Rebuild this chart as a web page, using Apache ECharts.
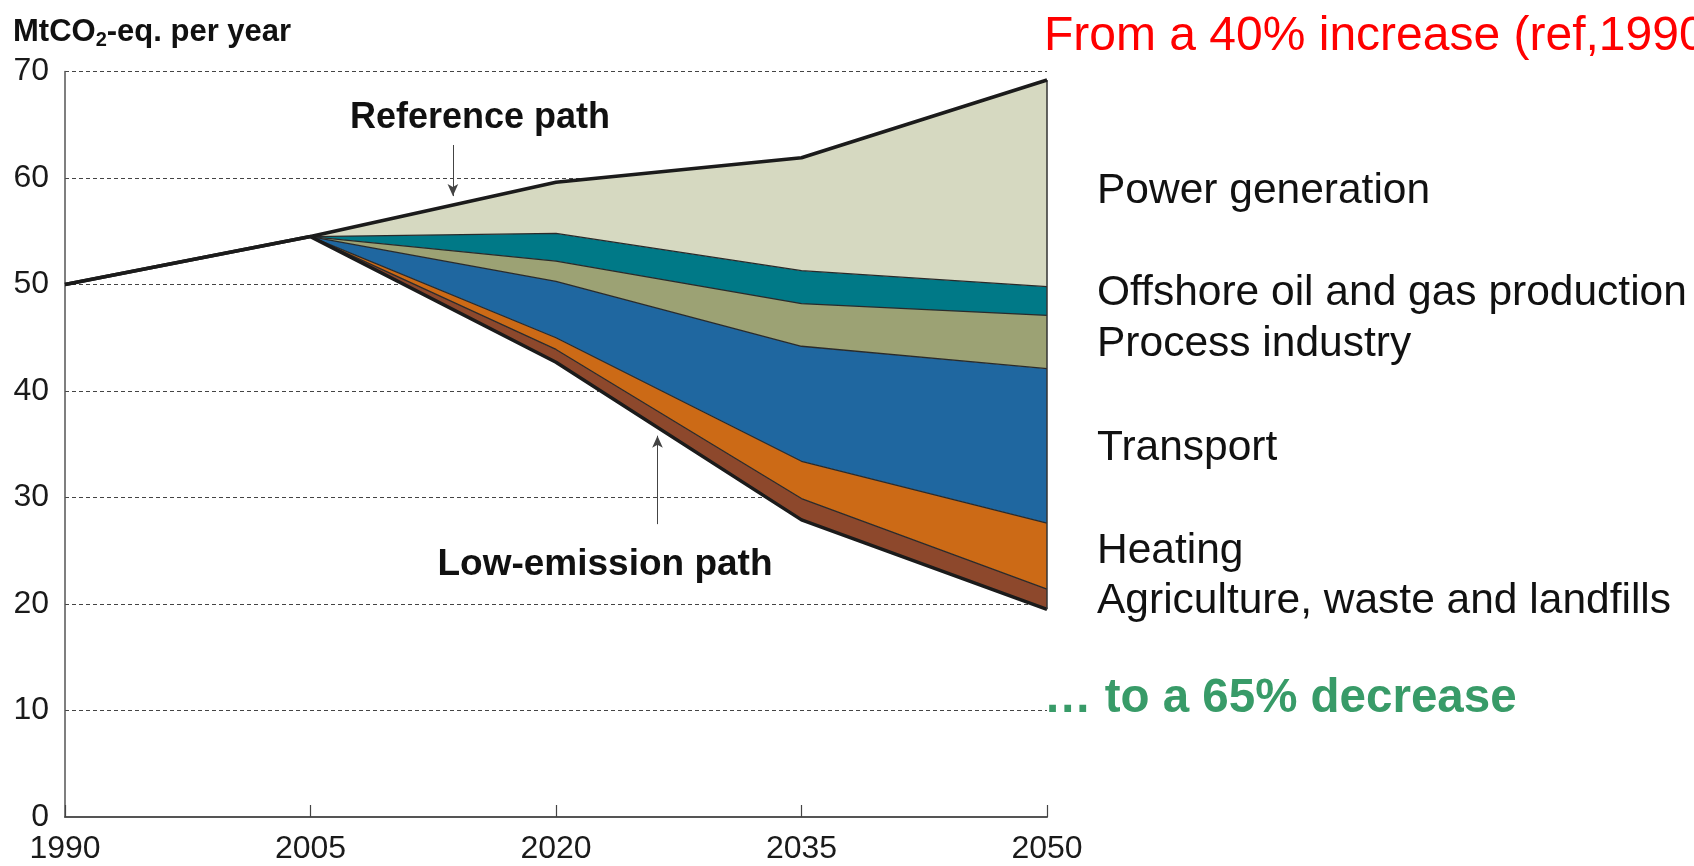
<!DOCTYPE html>
<html>
<head>
<meta charset="utf-8">
<title>Emission paths</title>
<script src="https://cdn.jsdelivr.net/npm/echarts@6/dist/echarts.min.js"></script>
<style>
  html, body { margin: 0; padding: 0; background: #fff; }
  #chart { width: 1694px; height: 866px; }
</style>
</head>
<body>
<div id="chart"></div>
<script>
// years on the x axis
const years = [1990, 2005, 2020, 2035, 2050];
// reference path (top line), MtCO2-eq per year
const referencePath = [50, 54.5, 59.6, 61.9, 69.2];
// low-emission path = bottom of the stack (shares the 1990-2005 history)
const lowEmissionPath = [50, 54.5, 42.7, 27.9, 19.5];
// cuts per sector, bottom to top
const agriculture = [0, 0, 1.2, 2.0, 1.9];
const heating = [0, 0, 1.1, 3.5, 6.2];
const transport = [0, 0, 5.3, 10.8, 14.5];
const processIndustry = [0, 0, 1.9, 4.0, 5.0];
const offshore = [0, 0, 2.6, 3.1, 2.7];
const powerGeneration = [0, 0, 4.8, 10.6, 19.4];

const sectorNames = ['Agriculture, waste and landfills', 'Heating', 'Transport',
  'Process industry', 'Offshore oil and gas production', 'Power generation'];
const sectorValues = [agriculture, heating, transport, processIndustry, offshore, powerGeneration];
const sectorColors = ['#8D482C', '#CC6A16', '#1F67A0', '#9CA274', '#007987', '#D6D9C1'];

// arrows of the two path labels: [year, from, to]
const refArrow = [2013.7, 63.1, 58.3];
const lowArrow = [2026.2, 27.5, 35.8];

const FONT = "'Liberation Sans', Arial, Helvetica, sans-serif";

const chart = echarts.init(document.getElementById('chart'), null, { renderer: 'canvas' });

const series = [];
// invisible base so that the fan starts at the low-emission path
series.push({
  name: 'Low-emission path',
  type: 'line',
  stack: 'total',
  data: lowEmissionPath,
  symbol: 'none',
  z: 4,
  lineStyle: { color: '#1b1b1b', width: 3.5 },
  silent: true
});
sectorValues.forEach((vals, i) => {
  series.push({
    name: sectorNames[i],
    type: 'line',
    stack: 'total',
    data: vals,
    symbol: 'none',
    z: 2,
    lineStyle: { color: '#2a2a2a', width: 1.3 },
    areaStyle: { color: sectorColors[i], opacity: 1 },
    silent: true
  });
});
// reference path on top (value x axis), with the arrows and the 2050 edge
series.push({
  name: 'Reference path',
  type: 'line',
  xAxisIndex: 1,
  data: years.map((y, i) => [y, referencePath[i]]),
  symbol: 'none',
  z: 5,
  lineStyle: { color: '#1b1b1b', width: 3.5 },
  silent: true,
  markLine: {
    silent: true,
    animation: false,
    symbol: ['none', 'arrow'],
    symbolSize: [8, 12],
    label: { show: false },
    lineStyle: { color: '#444', width: 1, type: 'solid' },
    data: [
      [{ coord: [refArrow[0], refArrow[1]] }, { coord: [refArrow[0], refArrow[2]] }],
      [{ coord: [lowArrow[0], lowArrow[1]] }, { coord: [lowArrow[0], lowArrow[2]] }],
      [
        { coord: [2050, lowEmissionPath[4]], symbol: 'none', lineStyle: { color: '#333', width: 1.5 } },
        { coord: [2050, referencePath[4]], symbol: 'none' }
      ]
    ]
  }
});

const option = {
  backgroundColor: '#fff',
  animation: false,
  grid: { left: 65, right: 647, top: 71.5, bottom: 49 },
  xAxis: [
    {
      type: 'category',
      data: years,
      boundaryGap: false,
      axisLine: { show: true, lineStyle: { color: '#555', width: 2 } },
      axisTick: { show: true, inside: true, length: 12, lineStyle: { color: '#444', width: 1.2 } },
      axisLabel: { color: '#1a1a1a', fontFamily: FONT, fontSize: 32, margin: 16 },
      splitLine: { show: false }
    },
    { type: 'value', min: 1990, max: 2050, show: false }
  ],
  yAxis: {
    type: 'value',
    min: 0,
    max: 70,
    interval: 10,
    axisLine: { show: true, lineStyle: { color: '#555', width: 1.5 } },
    axisTick: { show: false },
    axisLabel: { color: '#1a1a1a', fontFamily: FONT, fontSize: 32, margin: 16 },
    splitLine: { show: true, lineStyle: { color: '#444', width: 1.2, type: [4, 3] } }
  },
  series: series,
  graphic: [
    {
      type: 'text', left: 13, top: 15,
      style: {
        text: '{a|MtCO}{b|2}{a|-eq. per year}',
        rich: {
          a: { fontFamily: FONT, fontWeight: 'bold', fontSize: 31, fill: '#111', lineHeight: 34 },
          b: { fontFamily: FONT, fontWeight: 'bold', fontSize: 20, fill: '#111', lineHeight: 34, padding: [15, 0, 0, 0] }
        }
      }
    },
    {
      type: 'text', left: 1044, top: 13,
      style: {
        text: 'From a 40% increase (ref,1990)', fill: '#FF0000',
        font: '48px ' + FONT,
        shadowColor: 'rgba(0,0,0,0.3)', shadowBlur: 1, shadowOffsetX: 2, shadowOffsetY: 2
      }
    },
    {
      type: 'text', x: 480, y: 118,
      style: { text: 'Reference path', fill: '#111', font: 'bold 36px ' + FONT, align: 'center', verticalAlign: 'middle' }
    },
    {
      type: 'text', x: 605, y: 565,
      style: { text: 'Low-emission path', fill: '#111', font: 'bold 37px ' + FONT, align: 'center', verticalAlign: 'middle' }
    },
    { type: 'text', x: 1097, y: 191, style: { text: 'Power generation', fill: '#111', font: '42.5px ' + FONT, verticalAlign: 'middle' } },
    { type: 'text', x: 1097, y: 293, style: { text: 'Offshore oil and gas production', fill: '#111', font: '42.5px ' + FONT, verticalAlign: 'middle' } },
    { type: 'text', x: 1097, y: 344, style: { text: 'Process industry', fill: '#111', font: '42.5px ' + FONT, verticalAlign: 'middle' } },
    { type: 'text', x: 1097, y: 448, style: { text: 'Transport', fill: '#111', font: '42.5px ' + FONT, verticalAlign: 'middle' } },
    { type: 'text', x: 1097, y: 551, style: { text: 'Heating', fill: '#111', font: '42.5px ' + FONT, verticalAlign: 'middle' } },
    { type: 'text', x: 1097, y: 601, style: { text: 'Agriculture, waste and landfills', fill: '#111', font: '42.5px ' + FONT, verticalAlign: 'middle' } },
    {
      type: 'text', x: 1044, y: 699,
      style: {
        text: '\u2026 to a 65% decrease', fill: '#389B68',
        font: 'bold 47.5px ' + FONT, verticalAlign: 'middle',
        shadowColor: 'rgba(0,0,0,0.3)', shadowBlur: 1, shadowOffsetX: 2, shadowOffsetY: 2
      }
    }
  ]
};

chart.setOption(option);
</script>
</body>
</html>
